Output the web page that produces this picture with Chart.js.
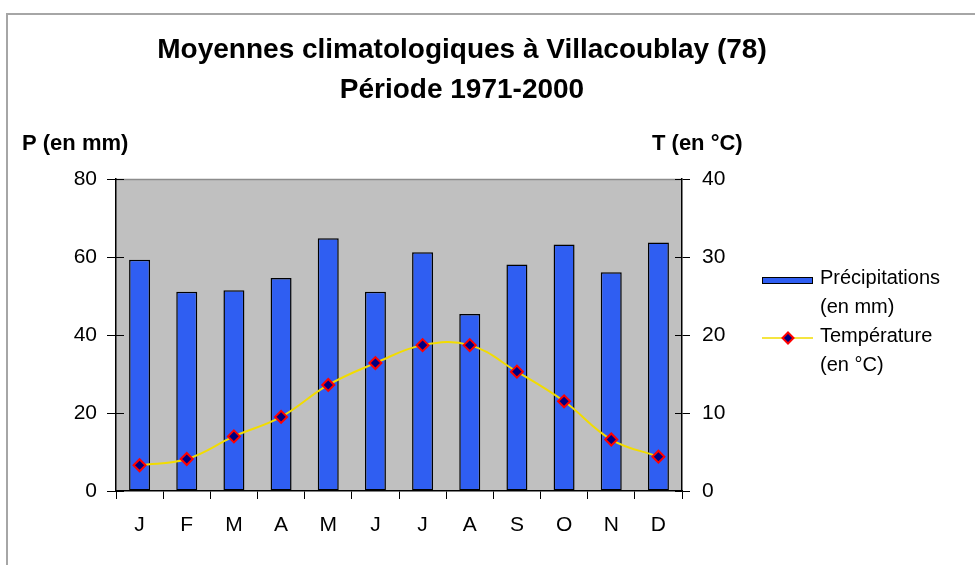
<!DOCTYPE html>
<html lang="fr">
<head>
<meta charset="utf-8">
<title>Moyennes climatologiques à Villacoublay (78)</title>
<script src="https://cdn.jsdelivr.net/npm/chart.js@4/dist/chart.umd.min.js"></script>
<style>
  html, body { margin: 0; padding: 0; background: #ffffff; }
  canvas { display: block; }
</style>
</head>
<body>
<canvas id="chart" width="975" height="565"></canvas>
<script>
// Monthly normals, Villacoublay 1971-2000
const months = ['J', 'F', 'M', 'A', 'M', 'J', 'J', 'A', 'S', 'O', 'N', 'D'];
const precipitation = [59.3, 51.1, 51.5, 54.6, 64.8, 51.1, 61.2, 45.4, 58.1, 63.2, 56.1, 63.7];
const temperature = [3.3, 4.1, 7.0, 9.5, 13.6, 16.4, 18.7, 18.7, 15.3, 11.5, 6.6, 4.4];
const titleLines = ['Moyennes climatologiques à Villacoublay (78)', 'Période 1971-2000'];
const leftAxisTitle = 'P (en mm)';
const rightAxisTitle = 'T (en °C)';
const legendPrecip = ['Précipitations', '(en mm)'];
const legendTemp = ['Température', '(en °C)'];

const FONT = '"Liberation Sans", Arial, Helvetica, sans-serif';
const BAR_BLUE = '#2f5ef2';
const LINE_YELLOW = '#f2dc00';
const MARK_FILL = '#000080';
const MARK_EDGE = '#ff0000';

// Grey plot background, frame, titles, inner tick marks and legend
const decorations = {
  id: 'decorations',
  beforeDraw(chart) {
    const { ctx, chartArea: a } = chart;
    ctx.save();
    ctx.fillStyle = '#c0c0c0';
    ctx.fillRect(a.left, a.top, a.right - a.left, a.bottom - a.top);
    ctx.strokeStyle = '#8c8c8c';
    ctx.lineWidth = 1.5;
    ctx.beginPath();
    ctx.moveTo(a.left, a.top + 0.5);
    ctx.lineTo(a.right, a.top + 0.5);
    ctx.stroke();
    // outer frame (top and left edges)
    ctx.strokeStyle = '#a6a6a6';
    ctx.lineWidth = 2;
    ctx.beginPath();
    ctx.moveTo(7, 565);
    ctx.lineTo(7, 14);
    ctx.lineTo(975, 14);
    ctx.stroke();
    ctx.restore();
  },
  afterDraw(chart) {
    const { ctx, chartArea: a, scales } = chart;
    ctx.save();
    // inner halves of the crossing y tick marks
    ctx.strokeStyle = '#000000';
    ctx.lineWidth = 1;
    scales.y.ticks.forEach(t => {
      const py = Math.round(scales.y.getPixelForValue(t.value)) + 0.5;
      ctx.beginPath();
      ctx.moveTo(a.left, py);
      ctx.lineTo(a.left + 8, py);
      ctx.stroke();
    });
    scales.y1.ticks.forEach(t => {
      const py = Math.round(scales.y1.getPixelForValue(t.value)) + 0.5;
      ctx.beginPath();
      ctx.moveTo(a.right - 7, py);
      ctx.lineTo(a.right, py);
      ctx.stroke();
    });

    // titles
    ctx.fillStyle = '#000000';
    ctx.textAlign = 'center';
    ctx.textBaseline = 'alphabetic';
    ctx.font = 'bold 28px ' + FONT;
    ctx.fillText(titleLines[0], 462, 58);
    ctx.fillText(titleLines[1], 462, 98);

    ctx.textAlign = 'left';
    ctx.font = 'bold 22px ' + FONT;
    ctx.fillText(leftAxisTitle, 22, 150);
    ctx.fillText(rightAxisTitle, 652, 150);

    // legend
    const lx = 762, lw = 51, tx = 820;
    ctx.fillStyle = BAR_BLUE;
    ctx.fillRect(lx, 277, lw, 7);
    ctx.strokeStyle = '#000000';
    ctx.lineWidth = 1;
    ctx.strokeRect(lx + 0.5, 277.5, lw - 1, 6);

    ctx.strokeStyle = LINE_YELLOW;
    ctx.lineWidth = 1.5;
    ctx.beginPath();
    ctx.moveTo(lx, 338);
    ctx.lineTo(lx + lw, 338);
    ctx.stroke();
    const cx = lx + 26, cy = 338, r = 5.5;
    ctx.beginPath();
    ctx.moveTo(cx, cy - r);
    ctx.lineTo(cx + r, cy);
    ctx.lineTo(cx, cy + r);
    ctx.lineTo(cx - r, cy);
    ctx.closePath();
    ctx.fillStyle = MARK_FILL;
    ctx.fill();
    ctx.strokeStyle = MARK_EDGE;
    ctx.lineWidth = 2;
    ctx.stroke();

    ctx.fillStyle = '#000000';
    ctx.font = '20px ' + FONT;
    ctx.textBaseline = 'middle';
    ctx.fillText(legendPrecip[0], tx, 278);
    ctx.fillText(legendPrecip[1], tx, 307);
    ctx.fillText(legendTemp[0], tx, 336);
    ctx.fillText(legendTemp[1], tx, 365);
    ctx.restore();
  }
};

new Chart(document.getElementById('chart'), {
  type: 'bar',
  data: {
    labels: months,
    datasets: [
      {
        type: 'line',
        label: 'Température (en °C)',
        data: temperature,
        yAxisID: 'y1',
        order: 0,
        borderColor: LINE_YELLOW,
        borderWidth: 2,
        tension: 0.4,
        pointStyle: 'rectRot',
        pointRadius: 6,
        pointBackgroundColor: MARK_FILL,
        pointBorderColor: MARK_EDGE,
        pointBorderWidth: 2
      },
      {
        type: 'bar',
        label: 'Précipitations (en mm)',
        data: precipitation,
        yAxisID: 'y',
        order: 1,
        backgroundColor: BAR_BLUE,
        borderColor: '#000000',
        borderWidth: 1.5,
        borderSkipped: false,
        categoryPercentage: 1,
        barPercentage: 0.445
      }
    ]
  },
  options: {
    responsive: false,
    animation: false,
    layout: { padding: { top: 179, left: 0, right: 0, bottom: 0 } },
    plugins: {
      legend: { display: false },
      title: { display: false },
      tooltip: { enabled: false }
    },
    scales: {
      x: {
        offset: true,
        border: { color: '#000000', width: 1.5 },
        grid: {
          offset: true,
          drawOnChartArea: false,
          drawTicks: true,
          tickLength: 8,
          color: '#000000'
        },
        ticks: {
          color: '#000000',
          font: { family: FONT, size: 21 },
          padding: 14,
          maxRotation: 0
        },
        afterFit(scale) { scale.height = 74; }
      },
      y: {
        position: 'left',
        min: 0,
        max: 80,
        border: { color: '#000000', width: 1.5 },
        grid: { drawOnChartArea: false, tickLength: 9, color: '#000000' },
        ticks: {
          stepSize: 20,
          color: '#000000',
          font: { family: FONT, size: 21 },
          padding: 10
        },
        afterFit(scale) { scale.width = 116; }
      },
      y1: {
        position: 'right',
        min: 0,
        max: 40,
        border: { color: '#000000', width: 1.5 },
        grid: { drawOnChartArea: false, tickLength: 8, color: '#000000' },
        ticks: {
          stepSize: 10,
          color: '#000000',
          font: { family: FONT, size: 21 },
          padding: 12
        },
        afterFit(scale) { scale.width = 293; }
      }
    }
  },
  plugins: [decorations]
});
</script>
</body>
</html>
